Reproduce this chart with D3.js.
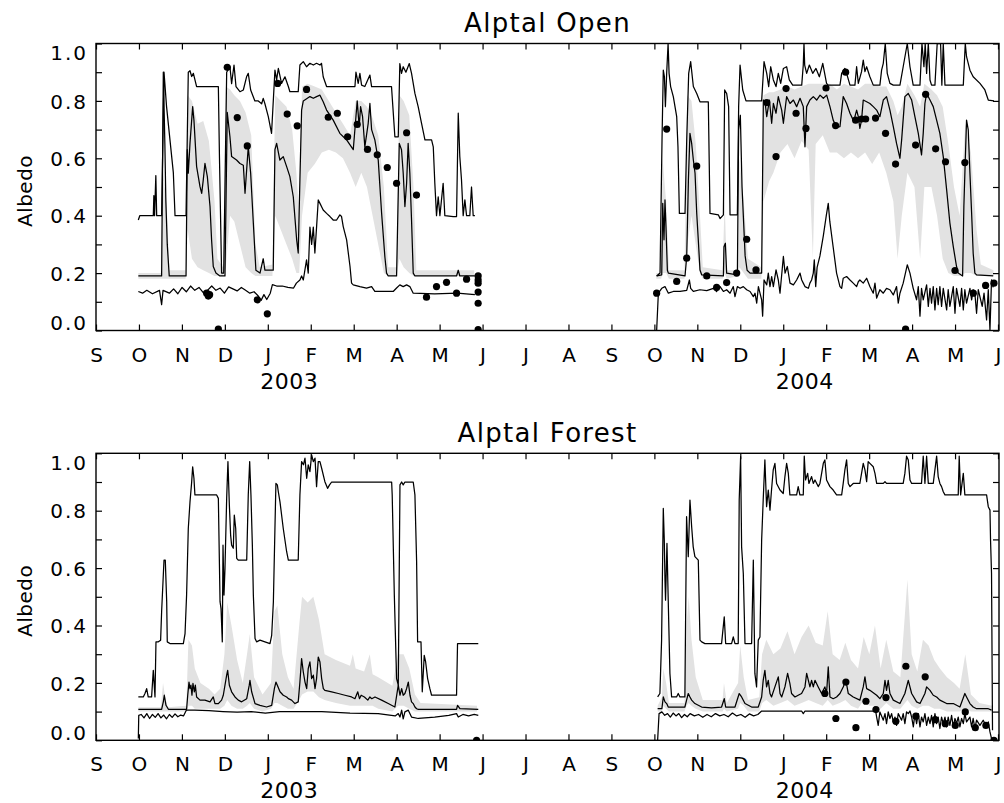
<!DOCTYPE html>
<html>
<head>
<meta charset="utf-8">
<script src="https://cdn.jsdelivr.net/npm/d3@7"></script>
<style>
  body { margin: 0; background: #fff; }
  text { font-family: "DejaVu Sans", sans-serif; fill: #000; }
</style>
</head>
<body>
<div id="chart"></div>
<script>
// **************** Data ****************
// x values are days since 1 Sep 2002, null = gap (summer 2003)

const monthLetters = ["S","O","N","D","J","F","M","A","M","J","J","A","S","O","N","D","J","F","M","A","M","J"];
const yearLabels = [["2003", 4.5], ["2004", 16.5]];   // [label, month position]
const panelTitles = ["Alptal Open", "Alptal Forest"];
const yTicks = [0, 0.1, 0.2, 0.3, 0.4, 0.5, 0.6, 0.7, 0.8, 0.9, 1.0];
const yLabelled = [0, 0.2, 0.4, 0.6, 0.8, 1.0];

// ---- Alptal Open ----
const openMax = [[30,0.385],[31,0.40],[40.6,0.40],[41,0.47],[41.5,0.40],[42.4,0.54],[43,0.40],[46.5,0.40],[48.2,0.90],[50,0.78],[54.8,0.55],[56,0.40],[63.8,0.40],[65.4,0.90],[66.6,0.905],[67.8,0.885],[69,0.896],[71.3,0.85],[86.7,0.85],[87.5,0.60],[89,0.20],[90.5,0.20],[92.6,0.90],[94.9,0.92],[96.1,0.86],[97.8,0.925],[99.2,0.85],[102,0.832],[104.4,0.838],[106.7,0.884],[107.9,0.896],[109.6,0.838],[112.6,0.80],[115,0.80],[117.4,0.79],[118.5,0.809],[119.7,0.79],[122.1,0.745],[124.4,0.687],[126.8,0.907],[128,0.873],[129.2,0.913],[131.5,0.861],[133.9,0.884],[136.3,0.85],[137.4,0.832],[143.3,0.832],[144.5,0.925],[146.9,0.937],[149.2,0.919],[151.6,0.931],[154,0.925],[156.3,0.931],[158.7,0.925],[159.8,0.931],[161,0.884],[163.4,0.85],[183.5,0.85],[184.2,0.90],[185.8,0.861],[187,0.896],[188.2,0.855],[190.5,0.85],[194.1,0.89],[195.3,0.85],[209.4,0.85],[211.8,0.675],[214.2,0.675],[215.3,0.93],[216.5,0.896],[217.7,0.919],[219.6,0.90],[222,0.93],[223.6,0.896],[226,0.826],[228.3,0.78],[230.7,0.722],[233.1,0.664],[237.8,0.664],[239,0.64],[240.1,0.513],[241.3,0.40],[242.5,0.466],[243.7,0.40],[246,0.513],[247.2,0.40],[253.1,0.397],[255.5,0.397],[256.7,0.757],[257.8,0.606],[259,0.525],[260.2,0.40],[261.4,0.455],[262.6,0.40],[264.9,0.40],[266.1,0.50],[267.3,0.40],[268.5,0.40],
  null,
  [397.3,0.19],[399.7,0.20],[401.1,0.664],[402,0.907],[402.8,0.884],[403.5,0.78],[404.4,0.896],[405.4,1.0],[406.1,0.896],[407.2,0.85],[409.1,0.815],[411.5,0.745],[412.4,0.64],[413.4,0.408],[417.4,0.408],[418.6,0.664],[420,0.896],[421.4,0.937],[423.3,0.85],[425.7,0.826],[428,0.797],[433.9,0.797],[435.1,0.408],[441,0.403],[442.2,0.39],[444.6,0.403],[445.5,0.838],[446.9,0.826],[448.3,0.78],[449.3,0.403],[454.5,0.403],[455.4,0.78],[456.4,0.925],[458.3,0.838],[460.6,0.80],[471.7,0.80],[473.4,0.937],[475.3,0.896],[476.7,0.85],[478.1,0.919],[480,0.873],[481.9,0.85],[483.5,0.896],[485.2,0.861],[487.1,0.913],[489.4,0.919],[491.3,0.873],[493.7,0.855],[500.1,0.855],[501.2,0.925],[501.7,1.0],[502.2,0.925],[503.6,0.896],[505.5,0.925],[507.9,0.896],[510.2,0.913],[512.6,0.884],[515,0.931],[517.7,0.861],[518.9,0.855],[527.2,0.855],[528.4,0.896],[530.7,0.913],[531.9,0.896],[534.3,0.855],[537.8,0.855],[539,0.919],[540.2,0.861],[542.5,0.902],[543.7,0.942],[544.9,0.902],[546.1,0.919],[548.4,0.884],[550.8,0.855],[555.5,0.855],[556.7,0.907],[557.9,0.931],[559.3,1.0],[560.7,0.896],[562.6,0.861],[565,0.855],[569.7,0.855],[572,0.919],[574.9,1.0],[576.8,0.919],[579.1,0.855],[583.9,0.855],[585.3,1.0],[586.7,0.919],[587.6,1.0],[588.6,0.896],[589.8,1.0],[591,0.873],[592.1,0.855],[594.5,0.855],[596.1,1.0],[598.5,1.0],[599.4,0.855],[600.4,1.0],[601.6,0.855],[614.6,0.855],[616,1.0],[616.9,0.954],[619.3,0.907],[621.6,0.884],[626.4,0.861],[629.9,0.838],[632.3,0.803],[636.3,0.80]];

const openMid = [[30,0.19],[46.5,0.19],[47.7,0.90],[48.8,0.65],[49.5,0.45],[50.5,0.30],[51.9,0.19],[63.8,0.19],[64.7,0.63],[65.4,0.548],[66.6,0.652],[68.5,0.78],[69.4,0.733],[71.3,0.571],[73.7,0.501],[74.9,0.478],[76,0.524],[77.2,0.582],[78.9,0.536],[80.8,0.432],[81.9,0.316],[83.1,0.223],[85,0.20],[87.8,0.19],[91.4,0.19],[93,0.76],[94.9,0.676],[96.1,0.606],[99.6,0.594],[102,0.582],[104.4,0.576],[105.6,0.478],[107.9,0.64],[109.6,0.548],[111.5,0.374],[113.3,0.21],[116.2,0.20],[118.5,0.25],[119.7,0.21],[125.6,0.21],[126.8,0.63],[128,0.652],[130.3,0.594],[132.7,0.606],[135.1,0.571],[137.4,0.536],[139.8,0.466],[142.2,0.316],[143.3,0.27],[144.5,0.525],[145.7,0.768],[146.9,0.80],[151.6,0.815],[154,0.809],[156.3,0.815],[158.7,0.82],[161,0.797],[163.4,0.768],[168.1,0.733],[172.8,0.687],[177.6,0.664],[182.3,0.63],[184.2,0.745],[185.1,0.80],[186.5,0.71],[187.5,0.78],[188.9,0.745],[190.5,0.64],[192.9,0.722],[194.1,0.791],[195.3,0.70],[197.6,0.664],[200,0.594],[202.4,0.408],[204.7,0.257],[205.9,0.20],[207.1,0.19],[213,0.19],[214.9,0.652],[216.5,0.63],[217.7,0.548],[218.9,0.432],[220.1,0.512],[221.2,0.652],[222.4,0.548],[223.6,0.385],[224.8,0.20],[226,0.19],[255.5,0.19],[256.7,0.21],[257.8,0.19],[268.5,0.19],
  null,
  [397.3,0.19],[400.9,0.194],[401.6,0.443],[402.5,0.316],[403.2,0.455],[403.9,0.362],[404.9,0.21],[405.6,0.20],[417.4,0.19],[418.6,0.257],[419.8,0.524],[420.9,0.687],[422.1,0.652],[423.3,0.594],[424.5,0.548],[425.7,0.408],[426.8,0.316],[428,0.211],[429.2,0.194],[444.6,0.19],[445,0.292],[446,0.304],[446.9,0.20],[454.5,0.194],[455.4,0.70],[456.6,0.75],[457.8,0.50],[460,0.26],[461.4,0.21],[463.5,0.20],[471.7,0.20],[472.9,0.803],[474.1,0.797],[475.3,0.745],[477.2,0.803],[478.8,0.722],[480,0.791],[481.9,0.757],[483.5,0.815],[485.9,0.768],[487.1,0.722],[489.4,0.815],[491.8,0.791],[494.2,0.803],[496.5,0.78],[498.9,0.809],[501.2,0.78],[502.4,0.64],[503.6,0.78],[505.9,0.803],[508.3,0.815],[510.7,0.803],[513.1,0.82],[515.4,0.809],[517.8,0.82],[520.1,0.78],[522.4,0.733],[524.8,0.708],[527.2,0.71],[529.5,0.815],[531.9,0.791],[534.3,0.757],[536.6,0.733],[537.8,0.745],[539,0.768],[540.2,0.745],[541.3,0.704],[542.5,0.733],[543.7,0.803],[546.1,0.797],[548.4,0.791],[550.8,0.78],[553.2,0.768],[555.5,0.745],[557.9,0.803],[560.2,0.815],[562.6,0.768],[565,0.71],[567.3,0.652],[569.7,0.60],[570.9,0.664],[573.2,0.815],[575.6,0.826],[578,0.803],[580.3,0.745],[582.7,0.687],[585,0.612],[586.2,0.687],[587.4,0.791],[588.6,0.826],[591,0.803],[593.3,0.78],[595.7,0.733],[598,0.687],[600.4,0.606],[602.8,0.49],[605.1,0.374],[607.5,0.292],[609.8,0.223],[611,0.20],[614.1,0.19],[615,0.432],[616,0.594],[616.9,0.733],[618.1,0.699],[619.3,0.548],[620.5,0.408],[621.6,0.269],[622.8,0.20],[624,0.194],[635.8,0.19]];

const openMin = [[30,0.136],[33,0.13],[36,0.14],[40,0.128],[45,0.14],[46.5,0.09],[47.5,0.14],[52,0.13],[55,0.145],[58,0.128],[61,0.15],[64,0.135],[67,0.155],[70,0.14],[73,0.15],[76,0.132],[79,0.14],[82,0.155],[85,0.14],[88,0.148],[91,0.13],[94,0.152],[97,0.145],[100,0.138],[103,0.15],[106,0.14],[109,0.13],[112,0.135],[115,0.12],[117,0.105],[119,0.125],[121,0.108],[123.5,0.13],[125,0.16],[128,0.155],[132,0.155],[136,0.15],[140,0.148],[142,0.165],[144.5,0.176],[145.7,0.19],[146.9,0.176],[149.2,0.246],[150.4,0.20],[151.6,0.36],[152.8,0.30],[154,0.36],[155.1,0.27],[156.3,0.36],[157.5,0.455],[158.7,0.443],[161,0.42],[163.4,0.408],[165.8,0.397],[168.1,0.385],[170.5,0.385],[172.8,0.403],[174,0.397],[175.2,0.362],[177.6,0.316],[180,0.223],[181.1,0.165],[182.3,0.159],[187,0.153],[191.7,0.148],[195.3,0.153],[197.6,0.136],[203.5,0.136],[210.6,0.136],[213,0.148],[215.3,0.159],[217.7,0.153],[220.1,0.159],[222.4,0.153],[224.8,0.13],[240,0.128],[256,0.13],[268.5,0.125],
  null,
  [397.3,0],[398.5,0.13],[400.9,0.147],[403.2,0.153],[405.6,0.13],[409.1,0.136],[413.9,0.136],[418.6,0.14],[420.5,0.176],[421.4,0.147],[423.3,0.136],[428,0.142],[432.8,0.139],[437.5,0.147],[439.8,0.136],[442.2,0.153],[444.6,0.136],[446.9,0.142],[449.3,0.13],[451.6,0.153],[452.8,0.118],[454.5,0.153],[456.4,0.147],[458.7,0.153],[461.1,0.142],[463.5,0.136],[465.8,0.118],[467,0.13],[468.2,0.095],[469.4,0.153],[471.7,0.107],[472.4,0.05],[473.4,0.176],[475.3,0.159],[476.4,0.20],[477.6,0.153],[478.8,0.188],[480,0.153],[481.9,0.211],[483.5,0.176],[484.7,0.13],[487.1,0.258],[488.3,0.20],[489.9,0.223],[491.8,0.165],[494.2,0.159],[496.5,0.176],[498.9,0.20],[500.1,0.176],[501.2,0.165],[502.4,0.153],[504.8,0.147],[505.9,0.165],[507.1,0.176],[508.3,0.20],[509,0.246],[510,0.153],[511,0.22],[513,0.26],[515.4,0.33],[517.5,0.40],[518.9,0.443],[520,0.38],[522.4,0.29],[524.8,0.20],[527.2,0.153],[528.4,0.147],[529.5,0.182],[531.9,0.188],[534.3,0.176],[536.6,0.165],[539,0.153],[540.2,0.17],[541.3,0.176],[543.7,0.165],[546.1,0.182],[548.4,0.153],[550.8,0.13],[552,0.165],[553.2,0.113],[555.5,0.142],[557.9,0.13],[560.2,0.147],[562.6,0.142],[565,0.124],[567.3,0.153],[568.5,0.095],[569.7,0.13],[572,0.165],[574.9,0.229],[576.8,0.20],[579.1,0.147],[581.5,0.107],[582.7,0.153],[583.9,0.05],[585,0.147],[586.2,0.107],[588.6,0.159],[589.8,0.084],[591,0.147],[592.1,0.095],[593.3,0.153],[594.5,0.072],[595.7,0.147],[596.8,0.09],[598,0.153],[599.2,0.084],[600.4,0.147],[602.8,0.072],[603.9,0.142],[605.1,0.084],[607.5,0.153],[608.7,0.06],[609.8,0.147],[612.2,0.084],[613.4,0.147],[614.6,0.072],[615.7,0.142],[616.9,0.095],[619.3,0.147],[620.5,0.107],[621.6,0.142],[622.8,0.13],[624,0.06],[625.2,0.142],[628,0.084],[629.3,0.13],[631.1,0.037],[632.3,0.142],[633.5,0],[634.6,0.176],[635.8,0.15]];

// [day, low, high]
const openBand = [[30,0.18,0.20],[46,0.18,0.20],[47.5,0.18,0.55],[50,0.18,0.45],[52,0.18,0.21],[63.5,0.18,0.21],[65,0.35,0.82],[68,0.25,0.80],[72,0.22,0.72],[76,0.21,0.73],[80,0.20,0.66],[84,0.19,0.45],[86,0.19,0.25],[90,0.19,0.22],[92,0.22,0.85],[95,0.40,0.84],[98,0.38,0.82],[102,0.30,0.80],[106,0.22,0.76],[110,0.20,0.68],[113,0.19,0.30],[116,0.19,0.22],[125,0.19,0.23],[127,0.40,0.82],[131,0.35,0.80],[135,0.30,0.78],[139,0.25,0.70],[142,0.20,0.55],[144,0.20,0.40],[146,0.40,0.85],[150,0.55,0.86],[155,0.58,0.85],[160,0.62,0.84],[165,0.63,0.80],[170,0.62,0.76],[175,0.60,0.72],[180,0.55,0.68],[184,0.50,0.80],[188,0.55,0.80],[192,0.50,0.78],[196,0.40,0.74],[200,0.30,0.68],[204,0.20,0.50],[207,0.19,0.22],[213,0.19,0.22],[215,0.25,0.82],[218,0.22,0.80],[222,0.20,0.75],[225,0.19,0.50],[227,0.19,0.21],[268,0.19,0.21],
  null,
  [397,0.18,0.20],[400.5,0.18,0.20],[401.5,0.20,0.60],[404,0.20,0.45],[406,0.18,0.21],[417,0.18,0.21],[419,0.30,0.82],[422,0.40,0.80],[425,0.30,0.65],[428,0.20,0.40],[430,0.18,0.22],[444,0.18,0.21],[445.5,0.20,0.45],[447,0.18,0.21],[455,0.19,0.21],[456,0.22,0.60],[459,0.20,0.45],[462,0.18,0.25],[471.5,0.18,0.22],[473,0.45,0.82],[477,0.52,0.83],[480,0.55,0.83],[485,0.62,0.84],[490,0.65,0.85],[495,0.60,0.84],[500,0.66,0.85],[505,0.63,0.86],[508,0.25,0.86],[510,0.65,0.86],[515,0.68,0.86],[520,0.62,0.86],[525,0.62,0.84],[530,0.60,0.86],[535,0.62,0.85],[540,0.60,0.84],[545,0.62,0.86],[550,0.58,0.86],[555,0.62,0.85],[560,0.55,0.85],[565,0.45,0.80],[568,0.25,0.75],[571,0.40,0.78],[575,0.55,0.86],[580,0.50,0.82],[584,0.25,0.78],[587,0.50,0.86],[592,0.50,0.84],[596,0.40,0.82],[600,0.25,0.78],[604,0.20,0.65],[608,0.19,0.50],[612,0.19,0.40],[616,0.20,0.72],[620,0.20,0.62],[624,0.19,0.35],[627,0.19,0.23],[636,0.19,0.21]];

const openObs = [[78.4,0.13],[79.6,0.12],[80.5,0.125],[86.7,0.005],[93,0.917],[100.1,0.742],[107.2,0.643],[114.3,0.107],[121.4,0.058],[128.7,0.861],[135.5,0.754],[142.6,0.713],[149.2,0.84],[164.6,0.743],[171,0.757],[178.3,0.675],[185.1,0.718],[192.4,0.631],[199.3,0.612],[206.4,0.568],[213,0.513],[220.1,0.689],[227.1,0.472],[234.2,0.116],[241.3,0.153],[248.4,0.168],[255.5,0.13],[262.6,0.179],[270.8,0.19],[270.8,0.176],[270.8,0.165],[270.8,0.134],[270.8,0.095],[270.8,0.003],
  [397.3,0.13],[404.4,0.702],[411.5,0.171],[418.6,0.252],[425.7,0.573],[432.8,0.19],[439.8,0.15],[446.9,0.167],[454,0.2],[461.1,0.318],[467.7,0.211],[475.3,0.794],[481.9,0.606],[489,0.843],[496.1,0.757],[503.1,0.704],[517.3,0.845],[524.1,0.714],[531.2,0.9],[538.3,0.733],[542.5,0.737],[545.4,0.737],[552.4,0.74],[559.5,0.687],[566.6,0.58],[573.7,0.005],[580.8,0.646],[587.9,0.823],[595,0.633],[602,0.588],[608.7,0.209],[615.7,0.585],[621.7,0.13],[630.4,0.157],[636.3,0.165]];

// ---- Alptal Forest ----
const forestMax = [[30,0.151],[33.5,0.151],[34.7,0.163],[35.9,0.18],[37,0.151],[39.4,0.151],[40.6,0.244],[41.8,0.151],[42.5,0.343],[44.2,0.343],[45.8,0.349],[46.5,0.448],[47.7,0.576],[48.2,0.628],[49.1,0.628],[50.1,0.483],[50.5,0.343],[52.4,0.337],[61.9,0.337],[63.1,0.372],[64.2,0.506],[65.4,0.738],[66.6,0.83],[67.8,0.90],[68.5,0.953],[69.4,0.913],[70.1,0.855],[85.5,0.855],[86.7,0.843],[87.9,0.483],[88.6,0.459],[89.5,0.343],[90,0.68],[90.7,0.506],[91.4,0.599],[92.6,0.843],[93.5,0.971],[94.5,0.82],[95.4,0.715],[96.1,0.68],[97.3,0.669],[98,0.785],[99,0.738],[99.7,0.634],[100.8,0.628],[106.8,0.628],[107.9,0.855],[108.9,0.971],[109.8,0.855],[110.8,0.68],[111.5,0.506],[112.7,0.355],[113.8,0.343],[116.2,0.349],[119.7,0.343],[123.3,0.337],[124.5,0.366],[125.7,0.483],[126.8,0.738],[127.5,0.895],[128.5,0.89],[129.2,0.866],[130.4,0.83],[132.7,0.738],[135.1,0.657],[136.3,0.628],[143.3,0.628],[144.5,0.855],[145.7,0.971],[147,0.96],[148.1,0.983],[149.3,0.913],[150.4,0.96],[151.6,0.936],[152.8,0.994],[154,0.971],[155.2,0.983],[156.3,0.884],[157.5,0.971],[158.7,0.971],[159.9,0.948],[162.2,0.901],[164.1,0.878],[165.5,0.89],[167,0.90],[209.5,0.90],[209.9,0.855],[211.4,0.506],[213,0.215],[214.2,0.192],[215.4,0.89],[216.6,0.90],[217.7,0.89],[218.9,0.90],[224.8,0.90],[226,0.855],[227.2,0.622],[227.9,0.343],[230.3,0.343],[231.2,0.169],[232.6,0.296],[233.6,0.273],[235,0.215],[236.6,0.18],[237.8,0.157],[255.5,0.157],[256.2,0.337],[270.9,0.337],
  null,
  [398,0.151],[399.6,0.163],[400.8,0.349],[402,0.808],[402.7,0.698],[403.2,0.558],[403.6,0.488],[404.6,0.686],[405.5,0.488],[406.7,0.233],[407.9,0.151],[411.4,0.151],[412.6,0.163],[413.8,0.151],[417.3,0.151],[418.5,0.779],[419.7,0.64],[420.9,0.837],[422.1,0.744],[423.2,0.674],[424.4,0.64],[426.8,0.628],[428,0.349],[429.2,0.343],[431.5,0.337],[443.3,0.337],[445.2,0.43],[446.2,0.337],[450.4,0.337],[451.6,0.36],[452.8,0.337],[455.1,0.337],[455.8,0.837],[456.8,0.988],[457.5,0.674],[458.7,0.581],[459.9,0.337],[464.6,0.337],[465.8,0.628],[466.9,0.233],[468.1,0.186],[469.3,0.349],[470.5,0.36],[471.7,0.698],[472.8,0.837],[474,0.977],[475.2,0.814],[476.4,0.872],[477.6,0.802],[478.7,0.872],[479.9,0.942],[481.1,0.965],[482.3,0.895],[484.7,0.872],[487,0.86],[488.2,0.919],[489.4,0.965],[490.6,0.93],[491.7,0.855],[496.5,0.855],[497.6,0.884],[498.8,0.855],[501.2,0.855],[501.9,0.99],[502.8,0.907],[504.3,0.93],[505.2,0.895],[507.1,0.919],[508.3,0.895],[509.5,0.907],[511.8,0.884],[513,0.895],[515.4,0.965],[516.5,0.977],[517.7,0.907],[520.1,0.884],[522.4,0.872],[524.8,0.855],[528.4,0.855],[529.5,0.895],[530.7,0.942],[531.9,0.977],[533.1,0.895],[534.3,0.884],[536.6,0.895],[541.3,0.895],[542.5,0.93],[543.7,0.965],[544.9,0.942],[546.1,0.901],[547.2,0.971],[548.4,0.965],[550.8,0.953],[552,0.93],[553.2,0.895],[557.9,0.895],[559.1,0.901],[560.2,0.895],[572,0.895],[573.2,0.93],[574.4,0.99],[575.6,0.977],[576.8,0.907],[578,0.895],[585,0.895],[586.2,0.99],[587.4,0.895],[588.6,0.99],[589.8,0.895],[593.3,0.895],[595.7,0.99],[596.8,0.919],[598,0.895],[599.2,0.884],[600.4,0.866],[601.6,0.855],[611,0.855],[611.7,0.99],[612.7,0.855],[614.6,0.93],[615.7,0.855],[631.1,0.855],[632.3,0.814],[633.5,0.802],[633.9,0.698],[634.6,0.581],[635.3,0.035]];

const forestMid = [[30,0.108],[46.5,0.108],[47.7,0.134],[48.4,0.157],[49.6,0.122],[51.3,0.108],[64.2,0.108],[65,0.157],[65.9,0.203],[66.6,0.18],[67.3,0.192],[68,0.157],[68.7,0.198],[69.7,0.169],[70.4,0.192],[71.3,0.151],[73.7,0.14],[77.2,0.14],[80.8,0.134],[83.1,0.151],[84.3,0.128],[86.7,0.128],[89,0.14],[90.2,0.157],[92.6,0.227],[93.3,0.244],[94.5,0.192],[96.1,0.169],[98.5,0.151],[100.8,0.14],[103.2,0.134],[106.8,0.145],[108.6,0.192],[109.1,0.209],[110.3,0.169],[112.7,0.128],[116.2,0.122],[120.9,0.116],[124.5,0.122],[126.4,0.18],[127.5,0.203],[128.5,0.192],[130.4,0.169],[132.7,0.157],[135.1,0.151],[136.3,0.145],[138.6,0.14],[141,0.128],[143.3,0.134],[144.5,0.203],[145.7,0.285],[146.9,0.238],[148.1,0.203],[149.3,0.18],[150.4,0.25],[151.6,0.273],[152.8,0.215],[154,0.227],[155.2,0.18],[156.3,0.215],[157.5,0.29],[158.7,0.273],[159.9,0.215],[161.1,0.18],[162.2,0.174],[167,0.169],[171.7,0.163],[176.4,0.157],[181.1,0.151],[183.5,0.145],[185.5,0.169],[186.7,0.145],[187.9,0.157],[190.2,0.151],[192.6,0.14],[194.1,0.151],[195.4,0.145],[197.7,0.151],[202.4,0.14],[207.1,0.128],[211.8,0.116],[214.2,0.192],[215.4,0.157],[216.6,0.18],[217.7,0.157],[218.9,0.163],[220.1,0.18],[221.3,0.203],[222.5,0.157],[223.6,0.134],[224.8,0.128],[226,0.116],[227.2,0.11],[228.4,0.108],[255.5,0.108],[256.2,0.122],[257.9,0.11],[270.9,0.108],
  null,
  [398,0.11],[401,0.11],[402,0.151],[403.2,0.134],[404.4,0.128],[405.5,0.116],[417.3,0.116],[418.5,0.14],[419.7,0.163],[420.9,0.151],[422.1,0.14],[424.4,0.128],[429.2,0.116],[436.2,0.113],[443.3,0.116],[445.2,0.145],[446.2,0.116],[452.8,0.116],[455.8,0.163],[457.5,0.151],[459.9,0.128],[464.6,0.116],[469.3,0.116],[471.7,0.151],[472.8,0.209],[474,0.244],[475.2,0.186],[476.4,0.209],[477.6,0.163],[478.7,0.151],[481.1,0.186],[483.5,0.221],[484.7,0.163],[485.9,0.151],[488.2,0.186],[490.1,0.233],[491.7,0.198],[492.9,0.163],[495.3,0.151],[497.6,0.157],[500,0.163],[502.4,0.186],[503.6,0.233],[504.8,0.209],[505.9,0.186],[507.1,0.209],[508.3,0.186],[509.5,0.209],[511.8,0.186],[514.2,0.163],[516.5,0.186],[517.7,0.163],[518.9,0.256],[520.1,0.151],[522.4,0.145],[524.8,0.151],[527.2,0.163],[529.5,0.186],[531.4,0.209],[533.1,0.163],[536.6,0.151],[541.3,0.14],[543.7,0.186],[544.9,0.221],[546.1,0.18],[548.4,0.174],[553.2,0.157],[555.5,0.145],[557.9,0.163],[559.1,0.209],[560.2,0.174],[561.4,0.209],[562.6,0.163],[565,0.14],[569.7,0.128],[573.2,0.163],[575.6,0.209],[578,0.163],[581.5,0.134],[583.9,0.128],[587.4,0.163],[588.6,0.186],[591,0.174],[593.3,0.157],[595.7,0.151],[598,0.14],[602.8,0.128],[607.5,0.128],[612.2,0.116],[615.7,0.163],[616.9,0.151],[619.3,0.128],[621.6,0.116],[624,0.11],[632.3,0.11],[634.6,0.105]];

const forestMin = [[30,0.006],[30.3,0.087],[32,0.09],[34,0.078],[36,0.093],[38,0.076],[40,0.09],[42,0.08],[44,0.093],[46,0.078],[48,0.088],[50,0.075],[52,0.09],[54,0.08],[56,0.092],[58,0.082],[60,0.088],[62,0.085],[64,0.105],[70,0.105],[80,0.103],[90,0.1],[100,0.098],[110,0.1],[120,0.095],[130,0.1],[140,0.1],[160,0.1],[180,0.095],[200,0.093],[208,0.088],[212,0.085],[214.2,0.093],[215.4,0.081],[216.6,0.105],[217.7,0.075],[218.9,0.099],[221.3,0.105],[223.6,0.081],[228.4,0.076],[240,0.081],[250,0.087],[255.5,0.093],[256.7,0.081],[260,0.09],[264,0.085],[268,0.09],[270.9,0.087],
  null,
  [398,0],[399,0.093],[401,0.099],[403,0.087],[405,0.093],[407,0.081],[409,0.095],[411,0.085],[413,0.093],[415,0.079],[417,0.09],[419,0.082],[421,0.093],[424,0.085],[427,0.09],[430,0.08],[433,0.09],[436,0.082],[439,0.093],[442,0.085],[445,0.09],[448,0.082],[451,0.095],[454,0.085],[457,0.09],[460,0.08],[463,0.092],[466,0.085],[469,0.09],[471.7,0.102],[500,0.102],[501.2,0.093],[502.4,0.102],[550.8,0.102],[552,0.116],[553.2,0.081],[554.3,0.052],[555.5,0.099],[557.9,0.07],[559.1,0.093],[560.2,0.058],[561.4,0.099],[562.6,0.076],[563.8,0.093],[565,0.064],[566.2,0.081],[567.3,0.052],[568.5,0.093],[570.9,0.07],[572,0.093],[573.2,0.058],[574.4,0.099],[575.6,0.093],[576.8,0.102],[578,0.081],[579.2,0.047],[580.3,0.093],[581.5,0.058],[582.7,0.093],[583.9,0.047],[585,0.081],[586.2,0.064],[587.4,0.093],[588.6,0.052],[589.8,0.081],[591,0.058],[592.1,0.087],[593.3,0.047],[594.5,0.093],[595.7,0.058],[596.8,0.081],[598,0.041],[599.2,0.081],[600.4,0.058],[601.6,0.081],[602.8,0.047],[603.9,0.081],[605.1,0.052],[606.3,0.087],[607.5,0.047],[608.7,0.076],[609.8,0.058],[611,0.081],[612.2,0.047],[613.4,0.076],[614.6,0.058],[615.7,0.093],[616.9,0.064],[619.3,0.081],[620.5,0.047],[621.6,0.076],[622.8,0.041],[624,0.07],[626.4,0.052],[628.7,0.07],[631.1,0.047],[632.3,0.064],[633.5,0.029],[634.6,0.006],[635.3,0]];

const forestBand = [[30,0.10,0.115],[46,0.10,0.115],[47.5,0.10,0.20],[49,0.10,0.15],[51,0.10,0.115],[64,0.10,0.12],[65.5,0.12,0.35],[68,0.12,0.33],[70,0.11,0.25],[74,0.11,0.20],[80,0.11,0.18],[84,0.11,0.16],[88,0.11,0.18],[91,0.12,0.30],[93,0.14,0.48],[96,0.12,0.40],[100,0.11,0.28],[104,0.11,0.20],[107,0.12,0.30],[109,0.13,0.37],[112,0.11,0.22],[118,0.10,0.16],[124,0.11,0.20],[126.5,0.13,0.45],[128.5,0.13,0.47],[132,0.12,0.30],[136,0.11,0.22],[140,0.11,0.18],[144,0.14,0.40],[146,0.16,0.50],[150,0.17,0.48],[154,0.17,0.50],[158,0.15,0.42],[162,0.14,0.30],[170,0.13,0.28],[180,0.12,0.26],[182,0.12,0.30],[184,0.12,0.25],[190,0.12,0.24],[194,0.12,0.30],[196,0.12,0.23],[200,0.11,0.22],[210,0.10,0.19],[214,0.12,0.30],[218,0.12,0.30],[222,0.11,0.25],[226,0.10,0.16],[230,0.10,0.13],[270,0.10,0.12],
  null,
  [398,0.10,0.12],[401,0.10,0.15],[402,0.12,0.25],[404,0.11,0.20],[406,0.10,0.13],[417,0.10,0.13],[418.5,0.12,0.40],[420,0.13,0.50],[422,0.12,0.35],[425,0.11,0.22],[430,0.10,0.14],[444,0.10,0.14],[445,0.11,0.20],[447,0.10,0.13],[455,0.11,0.20],[456.5,0.13,0.33],[459,0.12,0.22],[462,0.10,0.14],[470,0.10,0.15],[472,0.13,0.30],[475,0.14,0.35],[480,0.12,0.30],[485,0.13,0.32],[490,0.14,0.38],[495,0.12,0.30],[500,0.13,0.36],[505,0.14,0.40],[510,0.13,0.34],[515,0.12,0.33],[518.5,0.14,0.45],[522,0.12,0.30],[527,0.13,0.28],[531,0.14,0.34],[535,0.12,0.28],[540,0.11,0.25],[544,0.14,0.36],[548,0.12,0.30],[552,0.12,0.40],[556,0.11,0.25],[560,0.13,0.35],[565,0.11,0.24],[570,0.11,0.22],[575,0.14,0.56],[578,0.12,0.30],[582,0.11,0.24],[586,0.12,0.35],[590,0.12,0.33],[594,0.11,0.28],[598,0.11,0.25],[603,0.10,0.22],[608,0.10,0.20],[612,0.10,0.18],[616,0.11,0.30],[620,0.10,0.16],[626,0.10,0.13],[635,0.10,0.12]];

const forestObs = [[269.7,0.0],
  [516.5,0.163],[524.3,0.076],[531.4,0.203],[538.5,0.044],[545.6,0.136],[552.7,0.107],[559.8,0.149],[566.8,0.066],[573.9,0.258],[581,0.084],[587.6,0.221],[594.7,0.072],[601.8,0.058],[608.9,0.052],[616,0.099],[623.1,0.044],[630.6,0.052],[636.3,0.0]];

// **************** Layout ****************

const width = 1004, height = 803;
const plotLeft = 96, plotRight = 999;
const panelHeight = 287;
const monthLen = 365.25 / 12;
const monthTicks = d3.range(monthLetters.length).map(k => k * monthLen);

const x = d3.scaleLinear()
  .domain([0, 21 * monthLen])
  .range([96, 998]);

const panels = [
  { title: panelTitles[0], top: 43.5, band: openBand, lines: [openMin, openMid, openMax], obs: openObs },
  { title: panelTitles[1], top: 453.3, band: forestBand, lines: [forestMin, forestMid, forestMax], obs: forestObs }
];

let svg = d3.select("#chart").append("svg")
  .attr("width", width)
  .attr("height", height);

svg.append("rect").attr("width", width).attr("height", height).attr("fill", "#fff");

panels.forEach(drawPanel);

function drawPanel(p, i) {
  let bottom = p.top + panelHeight;
  let y = d3.scaleLinear().domain([0, 1]).range([bottom, p.top]);
  let g = svg.append("g");

  // clip everything to the plot box
  let clipId = "clip" + i;
  svg.append("clipPath").attr("id", clipId)
    .append("rect")
    .attr("x", plotLeft).attr("y", p.top)
    .attr("width", plotRight - plotLeft).attr("height", panelHeight);

  let plot = g.append("g").attr("clip-path", "url(#" + clipId + ")");

  // grey range band
  let area = d3.area()
    .defined(d => d)
    .x(d => x(d[0]))
    .y0(d => y(d[1]))
    .y1(d => y(d[2]));

  plot.append("path")
    .datum(p.band)
    .attr("d", area)
    .attr("fill", "#e2e2e2");

  // model lines
  let line = d3.line()
    .defined(d => d)
    .x(d => x(d[0]))
    .y(d => y(d[1]));

  p.lines.forEach(function (s) {
    plot.append("path")
      .datum(s)
      .attr("d", line)
      .attr("fill", "none")
      .attr("stroke", "#000")
      .attr("stroke-width", 1.25)
      .attr("stroke-linejoin", "round");
  });

  // observations
  plot.selectAll("circle")
    .data(p.obs)
    .join("circle")
    .attr("cx", d => x(d[0]))
    .attr("cy", d => y(d[1]))
    .attr("r", 3.6)
    .attr("fill", "#000");

  // **************** Axes ****************
  let xBottom = g.append("g")
    .attr("transform", "translate(0," + bottom + ")")
    .call(d3.axisBottom(x)
      .tickValues(monthTicks)
      .tickSizeInner(-6)
      .tickSizeOuter(0)
      .tickPadding(0)
      .tickFormat((d, k) => monthLetters[k]));
  xBottom.select(".domain").remove();
  xBottom.attr("font-family", null).attr("font-size", null);
  xBottom.selectAll("text")
    .attr("y", 31)
    .attr("dy", null)
    .attr("font-size", 20)
    .attr("fill", "#000");

  let xTop = g.append("g")
    .attr("transform", "translate(0," + p.top + ")")
    .call(d3.axisTop(x).tickValues(monthTicks).tickSizeInner(-6).tickSizeOuter(0).tickFormat(""));
  xTop.select(".domain").remove();

  let yLeft = g.append("g")
    .attr("transform", "translate(" + plotLeft + ",0)")
    .call(d3.axisLeft(y)
      .tickValues(yTicks)
      .tickSizeInner(-6)
      .tickSizeOuter(0)
      .tickPadding(8)
      .tickFormat(d => yLabelled.some(v => Math.abs(v - d) < 1e-9) ? d3.format(".1f")(d) : ""));
  yLeft.select(".domain").remove();
  yLeft.attr("font-family", null).attr("font-size", null);
  yLeft.selectAll("text")
    .attr("font-size", 20)
    .attr("letter-spacing", 2)
    .attr("fill", "#000")
    .attr("dy", "0.36em")
    .attr("y", d => d >= 0.999 ? 8.5 : (d <= 0.001 ? -8.5 : 0));

  let yRight = g.append("g")
    .attr("transform", "translate(" + plotRight + ",0)")
    .call(d3.axisRight(y).tickValues(yTicks).tickSizeInner(-6).tickSizeOuter(0).tickFormat(""));
  yRight.select(".domain").remove();

  g.selectAll(".tick line").attr("stroke", "#000").attr("stroke-width", 1.2);

  // frame
  g.append("rect")
    .attr("x", plotLeft).attr("y", p.top)
    .attr("width", plotRight - plotLeft).attr("height", panelHeight)
    .attr("fill", "none")
    .attr("stroke", "#000")
    .attr("stroke-width", 1.4);

  // year labels
  g.selectAll(".year")
    .data(yearLabels)
    .join("text")
    .attr("class", "year")
    .attr("x", d => x(d[1] * monthLen))
    .attr("y", bottom + 58)
    .attr("text-anchor", "middle")
    .attr("font-size", 22)
    .attr("letter-spacing", 0.5)
    .text(d => d[0]);

  // title
  g.append("text")
    .attr("x", (plotLeft + plotRight) / 2)
    .attr("y", p.top - 11.5)
    .attr("text-anchor", "middle")
    .attr("font-size", 26)
    .attr("letter-spacing", 1.3)
    .text(p.title);

  // y label
  g.append("text")
    .attr("transform", "translate(32," + (p.top + panelHeight / 2 + 4) + ") rotate(-90)")
    .attr("text-anchor", "middle")
    .attr("font-size", 20)
    .attr("letter-spacing", 0.5)
    .text("Albedo");
}
</script>
</body>
</html>
